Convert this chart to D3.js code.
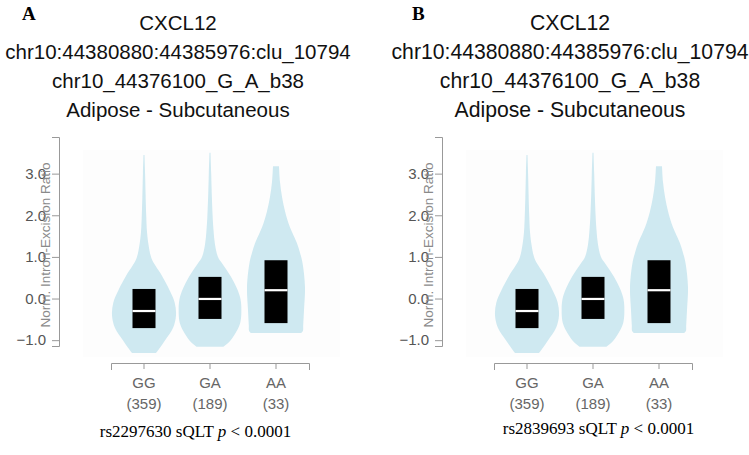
<!DOCTYPE html>
<html>
<head>
<meta charset="utf-8">
<script src="https://cdn.jsdelivr.net/npm/d3@7"></script>
<style>
  html, body { margin: 0; padding: 0; background: #ffffff; }
  svg { display: block; }
</style>
</head>
<body>
<svg id="chart" width="749" height="455"></svg>
<script>
// ---------------- data ----------------
const genotypes = ["GG", "GA", "AA"];
const counts = [359, 189, 33];
const titleLines = ["CXCL12", "chr10:44380880:44385976:clu_10794", "chr10_44376100_G_A_b38", "Adipose - Subcutaneous"];
const panelLetters = ["A", "B"];
const snpIds = ["rs2297630", "rs2839693"];
const yTicks = [-1.0, 0.0, 1.0, 2.0, 3.0];
const yDomain = [-1.14, 3.88];
const yLabel = "Norm. Intron-Excision Ratio";

// box stats: [q1, median, q3]
const boxGG = [-0.71, -0.30, 0.23];
const boxGA = [-0.49, -0.01, 0.52];
const boxAA = [-0.59, 0.20, 0.92];

// violin profiles: [value, relative density]
const violinGG = [[-1.31,0.375],[-1.2,0.48],[-1.0,0.66],[-0.7,0.91],[-0.4,1.0],[-0.1,0.96],[0.2,0.80],[0.6,0.52],[0.85,0.31],[1.0,0.22],[1.3,0.14],[1.6,0.094],[2.0,0.069],[2.5,0.05],[3.0,0.034],[3.45,0.016]];
const violinGA = [[-1.16,0.41],[-1.05,0.59],[-0.85,0.78],[-0.6,0.94],[-0.3,0.98],[0.0,0.95],[0.25,0.84],[0.52,0.66],[0.85,0.375],[1.0,0.25],[1.3,0.156],[1.64,0.11],[2.0,0.081],[2.5,0.056],[3.0,0.0375],[3.5,0.016]];
const violinAA = [[-0.83,0.78],[-0.78,0.84],[-0.64,0.85],[-0.28,0.875],[0.28,0.906],[0.85,0.83],[1.1,0.75],[1.33,0.656],[1.6,0.5],[1.81,0.39],[2.1,0.28],[2.43,0.19],[2.8,0.125],[3.18,0.094]];

const boxes = [boxGG, boxGA, boxAA];
const violins = [violinGG, violinGA, violinAA];

// ---------------- layout ----------------
const svg = d3.select("#chart");
const sans = "'Liberation Sans', Arial, Helvetica, sans-serif";
const serif = "'Liberation Serif', 'Times New Roman', Times, serif";

const panels = [
  { dx: 0,   titleX: 178, titleSize: 20.5, footX: 195.5, footY: 437, letterX: 22 },
  { dx: 383, titleX: 570, titleSize: 21.2, footX: 598.5, footY: 434, letterX: 412 }
];

const y = d3.scaleLinear().domain(yDomain).range([346, 137]);
const x = d3.scaleBand().domain(genotypes).range([111, 309]);
const w = d3.scaleLinear().domain([0, 1]).range([0, 32]);

panels.forEach((p, pi) => {
  // panel letter
  svg.append("text")
    .attr("x", p.letterX).attr("y", 20)
    .attr("font-family", serif).attr("font-weight", "bold")
    .attr("font-size", 19).attr("fill", "#000")
    .text(panelLetters[pi]);

  // titles
  titleLines.forEach((t, i) => {
    svg.append("text")
      .attr("x", p.titleX).attr("y", 30 + i * 29)
      .attr("text-anchor", "middle")
      .attr("font-family", sans).attr("font-size", p.titleSize)
      .attr("fill", "#111")
      .text(t);
  });

  const g = svg.append("g").attr("transform", `translate(${p.dx},0)`);

  // faint plot background
  g.append("rect")
    .attr("x", 83).attr("y", 150).attr("width", 257).attr("height", 207)
    .attr("fill", "#fdfdfd");

  // violins
  const area = d3.area()
    .curve(d3.curveCatmullRom)
    .y(d => y(d[0]));

  genotypes.forEach((gt, i) => {
    const cx = x(gt) + x.bandwidth() / 2;
    g.append("path")
      .datum(violins[i])
      .attr("fill", "#cfe9f1")
      .attr("d", area.x0(d => cx - w(d[1])).x1(d => cx + w(d[1])));

    const b = boxes[i];
    g.append("rect")
      .attr("x", cx - 11.5).attr("width", 23)
      .attr("y", y(b[2])).attr("height", y(b[0]) - y(b[2]))
      .attr("fill", "#000");
    g.append("line")
      .attr("x1", cx - 11.5).attr("x2", cx + 11.5)
      .attr("y1", y(b[1])).attr("y2", y(b[1]))
      .attr("stroke", "#fff").attr("stroke-width", 2.2);
  });

  // y axis
  const yAxis = g.append("g")
    .attr("transform", "translate(59,0)")
    .call(d3.axisLeft(y).tickValues(yTicks).tickFormat(d3.format(".1f"))
      .tickSize(7).tickSizeOuter(7).tickPadding(6));
  yAxis.selectAll("path, line").attr("stroke", "#999");
  yAxis.selectAll("text")
    .attr("font-family", sans).attr("font-size", 15).attr("fill", "#555");

  // y axis label (overlapping tick labels like the original)
  g.append("text")
    .attr("transform", "translate(50,245) rotate(-90)")
    .attr("text-anchor", "middle")
    .attr("font-family", sans).attr("font-size", 13.5).attr("fill", "#8a8a8a")
    .text(yLabel);

  // x axis
  const xAxis = g.append("g")
    .attr("transform", "translate(0,363)")
    .call(d3.axisBottom(x).tickSize(6).tickSizeOuter(7).tickPadding(9));
  xAxis.selectAll("path, line").attr("stroke", "#999");
  xAxis.selectAll(".tick text")
    .attr("font-family", sans).attr("font-size", 15).attr("fill", "#666")
    .attr("dy", null)
    .each(function(d) {
      const t = d3.select(this);
      t.text(null);
      t.append("tspan").attr("x", 0).attr("y", 25).text(d);
      t.append("tspan").attr("x", 0).attr("y", 46).text(`(${counts[genotypes.indexOf(d)]})`);
    });

  // footer
  const foot = svg.append("text")
    .attr("x", p.footX).attr("y", p.footY)
    .attr("text-anchor", "middle")
    .attr("font-family", serif).attr("font-size", 17).attr("fill", "#000");
  foot.append("tspan").text(`${snpIds[pi]} sQLT `);
  foot.append("tspan").attr("font-style", "italic").text("p");
  foot.append("tspan").text(" < 0.0001");
});
</script>
</body>
</html>
